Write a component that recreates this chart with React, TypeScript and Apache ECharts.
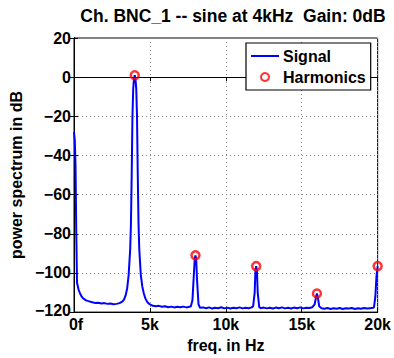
import React, { useEffect, useRef } from "react";
import * as echarts from "echarts";

const titleText = "Ch. BNC_1 -- sine at 4kHz  Gain: 0dB";
const xName = "freq. in Hz";
const yName = "power spectrum in dB";
const xTicks = [0, 5000, 10000, 15000, 20000];
const xTickLabels = ["0f", "5k", "10k", "15k", "20k"];
const yTicks = [-120, -100, -80, -60, -40, -20, 0, 20];
const yTickLabels = ["\u2212120", "\u2212100", "\u221280", "\u221260", "\u221240", "\u221220", "0", "20"];

const signalFreq = [
  0, 50, 100, 150, 200, 300, 400, 500, 600, 800, 1000, 1200, 1400, 1600, 1800, 2000,
  2200, 2400, 2600, 2800, 3000, 3200, 3300, 3400, 3500, 3600, 3700, 3750, 3800, 3850,
  3900, 3950, 4000, 4050, 4100, 4150, 4200, 4250, 4300, 4400, 4500, 4600, 4700, 4800,
  4900, 5000, 5200, 5400, 5600, 5800, 6000, 6200, 6400, 6600, 6800, 7000, 7200, 7400,
  7600, 7700, 7800, 7900, 7950, 8000, 8050, 8100, 8200, 8300, 8500, 8700, 8900, 9100,
  9300, 9500, 9700, 9900, 10100, 10300, 10500, 10700, 10900, 11100, 11300, 11500, 11700,
  11800, 11900, 11950, 12000, 12050, 12100, 12200, 12300, 12500, 12700, 12900, 13100,
  13300, 13500, 13700, 13900, 14100, 14300, 14500, 14700, 14900, 15100, 15300, 15500,
  15700, 15850, 15950, 16000, 16050, 16150, 16300, 16500, 16700, 16900, 17100, 17300,
  17500, 17700, 17900, 18100, 18300, 18500, 18700, 18900, 19100, 19300, 19500, 19700,
  19760, 19850, 19920, 20000,
];
const signalDb = [
  -28, -32, -45, -80, -105, -108.5, -110.5, -112, -113, -114, -114.5, -115, -115.3, -115.2, -115.6, -115.4,
  -115.8, -115.6, -116, -115.8, -115.4, -114.5, -113.5, -111.5, -108, -101, -88, -75, -50, -20,
  -6, -1, 1, -1, -6, -20, -50, -75, -88, -101, -107, -110.5, -113, -114.5,
  -115.5, -116, -116.8, -117, -116.8, -117.3, -117, -117.5, -117.2, -117.6, -117.3, -117.5, -117.2, -117.6,
  -117.3, -117, -114, -100, -93, -91, -93, -103, -116, -117.8, -117.6, -118, -117.6, -118.2,
  -117.8, -118, -117.5, -118.1, -117.7, -118.2, -117.8, -118, -117.6, -118.1, -117.8, -118, -117.6,
  -117, -110, -99, -96.5, -99, -110, -117.5, -118, -117.7, -118.1, -117.8, -118.2,
  -117.7, -118, -117.6, -118.1, -117.8, -118.2, -117.7, -118, -117.6, -118.1, -117.8, -117.9,
  -117.5, -116, -112, -110.5, -112, -117, -118, -118.3, -117.9, -118.4, -118, -118.3,
  -117.9, -118.4, -118, -118.2, -117.9, -118.4, -118, -118.3, -117.9, -118.2, -118, -117.8,
  -117.5, -112, -102, -96.5,
];

const harmFreq = [4000, 8000, 12000, 16000, 20000];
const harmDb = [1, -91, -96.5, -110.5, -96.5];

const FONT = "Liberation Sans, Arial, Helvetica, sans-serif";

export default function App() {
  const ref = useRef<HTMLDivElement>(null);
  useEffect(() => {
    if (!ref.current) return;
    const chart = echarts.init(ref.current, undefined, { renderer: "svg" });
    const signal = signalFreq.map((f, i) => [f, signalDb[i]]);
    const harm = harmFreq.map((f, i) => [f, harmDb[i]]);
    const tickLabel = {
      fontFamily: FONT,
      fontWeight: "bold",
      fontSize: 16,
      color: "#000",
    };
    const nameStyle = { fontFamily: FONT, fontWeight: "bold", fontSize: 16, color: "#000" };
    chart.setOption({
      animation: false,
      backgroundColor: "#fff",
      title: {
        text: titleText,
        left: 228,
        textAlign: "center",
        top: 2,
        textStyle: { fontFamily: FONT, fontWeight: "bold", fontSize: 17.5, color: "#000" },
      },
      grid: {
        left: 74,
        right: 13,
        top: 38,
        bottom: 43,
        show: true,
        borderColor: "#000",
        borderWidth: 1,
        backgroundColor: "#fff",
      },
      legend: {
        orient: "vertical",
        left: 246,
        top: 43,
        backgroundColor: "#fff",
        borderColor: "#000",
        borderWidth: 1.2,
        borderRadius: 0,
        padding: [5, 5, 5, 5],
        itemGap: 5,
        itemWidth: 28,
        itemHeight: 8,
        textStyle: { fontFamily: FONT, fontWeight: "bold", fontSize: 16, color: "#000", padding: [0, 0, 0, -1] },
        data: [
          { name: "Signal", icon: "path://M0,0 L28,0 L28,2 L0,2 Z" },
          { name: "Harmonics" },
        ],
      },
      xAxis: [
        {
          type: "value",
          min: 0,
          max: 20000,
          interval: 5000,
          name: xName,
          nameLocation: "middle",
          nameGap: 22,
          nameTextStyle: nameStyle,
          axisLine: { show: true, onZero: false, lineStyle: { color: "#000", width: 1 } },
          axisTick: { show: true, inside: true, length: 4, lineStyle: { color: "#000" } },
          axisLabel: {
            ...tickLabel,
            margin: 7,
            lineHeight: 10,
            formatter: (v: number) => {
              const i = xTicks.indexOf(v);
              if (i === 0) return "{first|" + xTickLabels[0] + "}";
              return i >= 0 ? xTickLabels[i] : "";
            },
            rich: {
              first: { ...tickLabel, lineHeight: 10, padding: [0, 0, 0, 4] },
            },
          },
          splitLine: { show: true, lineStyle: { color: "#888", type: [1, 3], width: 1 } },
        },
        {
          type: "value",
          position: "top",
          min: 0,
          max: 20000,
          interval: 5000,
          axisLine: { show: true, lineStyle: { color: "#000" } },
          axisTick: { show: true, inside: true, length: 4, lineStyle: { color: "#000" } },
          axisLabel: { show: false },
          splitLine: { show: false },
        },
      ],
      yAxis: [
        {
          type: "value",
          min: -120,
          max: 20,
          interval: 20,
          name: yName,
          nameLocation: "middle",
          nameGap: 45,
          nameTextStyle: nameStyle,
          axisLine: { show: true, onZero: false, lineStyle: { color: "#000", width: 1 } },
          axisTick: { show: true, inside: true, length: 4, lineStyle: { color: "#000" } },
          axisLabel: {
            ...tickLabel,
            margin: 3,
            lineHeight: 10,
            formatter: (v: number) => {
              const i = yTicks.indexOf(v);
              if (i === 0) return "{low|" + yTickLabels[0] + "}";
              return i >= 0 ? yTickLabels[i] : String(v);
            },
            rich: {
              low: { ...tickLabel, lineHeight: 10, padding: [0, 0, 4, 0] },
            },
          },
          splitLine: { show: true, lineStyle: { color: "#888", type: [1, 3], width: 1 } },
        },
        {
          type: "value",
          position: "right",
          min: -120,
          max: 20,
          interval: 20,
          axisLine: { show: true, lineStyle: { color: "#000" } },
          axisTick: { show: true, inside: true, length: 4, lineStyle: { color: "#000" } },
          axisLabel: { show: false },
          splitLine: { show: false },
        },
      ],
      series: [
        {
          name: "Signal",
          type: "line",
          data: signal,
          showSymbol: false,
          symbol: "none",
          lineStyle: { color: "#0000ff", width: 2 },
          itemStyle: { color: "#0000ff" },
          z: 2,
        },
        {
          name: "Harmonics",
          type: "scatter",
          data: harm,
          symbol: "circle",
          symbolSize: 8,
          clip: false,
          itemStyle: { color: "rgba(255,255,255,0)", borderColor: "#ff0000", borderWidth: 2.5 },
          z: 3,
        },
      ],
    });
    return () => chart.dispose();
  }, []);
  return (
    <div
      ref={ref}
      style={{ position: "fixed", left: 0, top: 0, width: 394, height: 358 }}
    />
  );
}
